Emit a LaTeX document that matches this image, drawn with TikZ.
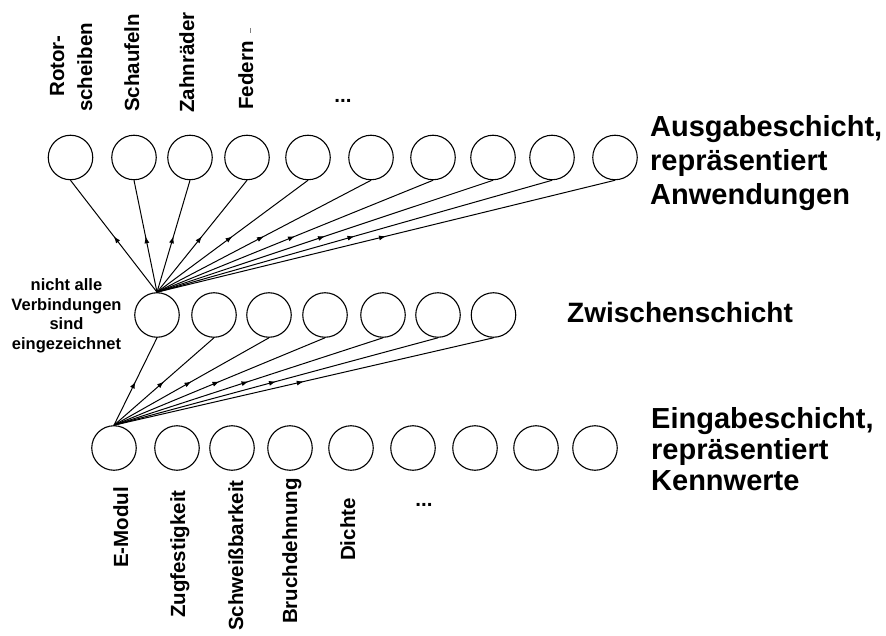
\documentclass[tikz,border=0pt]{standalone}
\usepackage{fontspec}
\setmainfont{Liberation Sans}
\usetikzlibrary{decorations.markings,arrows.meta}
\begin{document}
\begin{tikzpicture}[x=1pt,y=-1pt,
  neuron/.style={circle,draw,line width=1.1pt,minimum size=44.5pt,inner sep=0pt},
  link/.style={line width=1pt,postaction={decorate},
    decoration={markings,mark=at position 0.5 with {\arrow{Latex[length=7pt,width=5pt]}}}},
  rlabel/.style={font=\fontsize{20.5}{24}\selectfont\bfseries,rotate=90,anchor=base west,inner sep=0pt},
  dotslabel/.style={font=\fontsize{20.5}{24}\selectfont\bfseries,inner sep=0pt},
  layerlabel/.style={font=\fontsize{29}{34}\selectfont\bfseries,anchor=base west,inner sep=0pt},
  midlabel/.style={font=\fontsize{28}{34}\selectfont\bfseries,anchor=base west,inner sep=0pt},
  notelabel/.style={font=\fontsize{16.5}{19.5}\selectfont\bfseries,align=center,inner sep=0pt}]
\fill[white] (0,0) rectangle (886,636);
\useasboundingbox (0,0) rectangle (886,636);

% output layer
\foreach \x [count=\k] in {70.5,134,190,247,308,371,433,493,552,615}
  \node[neuron] (o\k) at (\x,157.5) {};
% hidden layer
\foreach \x [count=\k] in {157,214,269,325,383,438,493.5}
  \node[neuron] (m\k) at (\x,315) {};
% input layer
\foreach \x [count=\k] in {114,177,232,290,351,413,475,536,595}
  \node[neuron] (i\k) at (\x,448) {};

% connections
\foreach \k in {1,...,10}
  \draw[link] (m1.north) -- (o\k.south);
\foreach \k in {1,...,7}
  \draw[link] (i1.north) -- (m\k.south);

% output labels
\node[rlabel] (lrotor) at (64,97) {Rotor-};
\node[rlabel] (lscheiben) at (92,112) {scheiben};
\node[rlabel] (lschaufeln) at (139,112) {Schaufeln};
\node[rlabel] (lzahn) at (194,113) {Zahnräder};
\node[rlabel] (lfedern) at (253,110) {Federn};
\draw[gray,line width=0.6pt] (250.5,28) -- (250.5,33);
\node[dotslabel] (ldotsA) at (343,101) {...};

% input labels
\node[rlabel] (lemod) at (128,568) {E-Modul};
\node[rlabel] (lzug) at (185,618) {Zugfestigkeit};
\node[rlabel] (lschw) at (243,631) {Schweißbarkeit};
\node[rlabel] (lbruch) at (297,624) {Bruchdehnung};
\node[rlabel] (ldichte) at (355,561) {Dichte};
\node[dotslabel] (ldotsB) at (424,505) {...};

% note
\node[notelabel] (note) at (66.5,316) {nicht alle\\Verbindungen\\sind\\eingezeichnet};

% layer labels
\node[layerlabel] (a1) at (650,137) {Ausgabeschicht,};
\node[layerlabel] (a2) at (650,171) {repräsentiert};
\node[layerlabel] (a3) at (650,205) {Anwendungen};
\node[midlabel] (z1) at (567,323) {Zwischenschicht};
\node[layerlabel] (e1) at (651,428) {Eingabeschicht,};
\node[layerlabel] (e2) at (651,459) {repräsentiert};
\node[layerlabel] (e3) at (651,490) {Kennwerte};
\end{tikzpicture}
\end{document}
